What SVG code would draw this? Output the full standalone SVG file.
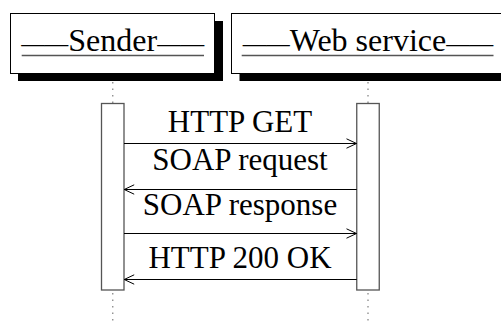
<svg xmlns="http://www.w3.org/2000/svg" width="501" height="323" viewBox="0 0 501 323">
<style>
.box{fill:#fff;stroke:#000;stroke-width:1}
.shadow{fill:#000}
.hdr{font-family:"Liberation Serif","Times New Roman",serif;font-size:32px;fill:#000;text-anchor:middle}
.dash{font-size:23.5px}
.uline{stroke:#555;stroke-width:1.3}
.act{fill:#fff;stroke:#555;stroke-width:1.3}
.life{stroke:#888;stroke-width:1.3;stroke-dasharray:1.5 5}
.msg{stroke:#000;stroke-width:1;fill:none}
.lbl{font-family:"Liberation Serif","Times New Roman",serif;font-size:31px;fill:#000;text-anchor:middle}
</style>
<defs>
<marker id="ah" markerUnits="userSpaceOnUse" markerWidth="12" markerHeight="12" viewBox="-11 -6 12 12" refX="0" refY="0" orient="auto">
<path d="M-10,-4.7 L0,0 L-10,4.7" fill="none" stroke="#000" stroke-width="1"/>
</marker>
</defs>
<g id="sender">
<rect class="shadow" x="18" y="21" width="205" height="60"/>
<rect class="box" x="10.5" y="13.5" width="204" height="60"/>
<text class="hdr" x="112.75" y="50.7"><tspan class="dash">——</tspan>Sender<tspan class="dash">——</tspan></text>
<line class="uline" x1="21.7" y1="55.5" x2="204" y2="55.5"/>
<line class="life" x1="112.75" y1="82" x2="112.75" y2="103"/>
<rect class="act" x="101.5" y="103.5" width="22.5" height="186.5"/>
<line class="life" x1="112.75" y1="293" x2="112.75" y2="323"/>
</g>
<g id="webservice">
<rect class="shadow" x="239.5" y="21" width="275" height="60"/>
<rect class="box" x="231.5" y="13.5" width="273" height="60"/>
<text class="hdr" x="368" y="50.7"><tspan class="dash">——</tspan>Web service<tspan class="dash">——</tspan></text>
<line class="uline" x1="241.7" y1="55.5" x2="493.5" y2="55.5"/>
<line class="life" x1="368" y1="82" x2="368" y2="103"/>
<rect class="act" x="356.75" y="103.5" width="22.5" height="186.5"/>
<line class="life" x1="368" y1="293" x2="368" y2="323"/>
</g>
<g id="connectors">
<line class="msg" x1="124" y1="143.5" x2="356.5" y2="143.5" marker-end="url(#ah)"/>
<line class="msg" x1="356.75" y1="189.5" x2="124.2" y2="189.5" marker-end="url(#ah)"/>
<line class="msg" x1="124" y1="233.5" x2="356.5" y2="233.5" marker-end="url(#ah)"/>
<line class="msg" x1="356.75" y1="279.5" x2="124.2" y2="279.5" marker-end="url(#ah)"/>
<text class="lbl" x="240" y="131.7">HTTP GET</text>
<text class="lbl" x="240" y="170">SOAP request</text>
<text class="lbl" x="240" y="215">SOAP response</text>
<text class="lbl" x="240" y="268.3">HTTP 200 OK</text>
</g>
</svg>
